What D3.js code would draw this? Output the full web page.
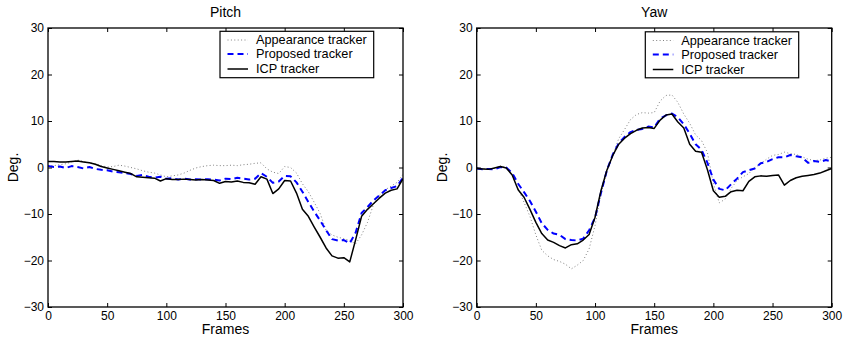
<!DOCTYPE html>
<html><head><meta charset="utf-8">
<script src="https://cdn.jsdelivr.net/npm/d3@7"></script>
<style>body{margin:0;background:#fff}svg{display:block}text{font-family:"Liberation Sans",Arial,Helvetica,sans-serif;fill:#000}</style>
</head><body><svg id="c" width="846" height="341"></svg>
<script>
const frames = d3.range(0, 301, 5);
const xTicks = [0, 50, 100, 150, 200, 250, 300];
const yTicks = [-30, -20, -10, 0, 10, 20, 30];
const seriesNames = ["Appearance tracker", "Proposed tracker", "ICP tracker"];
const panelTitles = ["Pitch", "Yaw"];

const pitchAppearance = [0.4,0.4,0.6,0.8,1.2,1.6,1.3,1.0,0.8,0.4,0.1,0.2,0.5,0.3,0.0,-0.3,-0.7,-1.0,-1.2,-1.6,-2.0,-1.8,-1.6,-1.2,-0.6,-0.1,0.2,0.4,0.5,0.4,0.4,0.5,0.4,0.6,0.7,0.9,1.0,-0.3,-1.0,-1.3,0.2,0.0,-1.2,-3.5,-5.2,-7.5,-9.9,-13.5,-14.5,-15.0,-15.3,-15.7,-16.4,-14.5,-11.8,-8.0,-6.0,-4.8,-4.0,-3.2,-1.5];
const pitchProposed = [0.3,0.1,0.2,-0.1,0.3,0.1,-0.2,0.1,-0.3,-0.5,-0.6,-0.9,-1.0,-1.2,-1.4,-1.8,-1.6,-2.0,-2.2,-2.0,-2.4,-2.3,-2.6,-2.4,-2.6,-2.5,-2.6,-2.5,-2.6,-2.8,-2.4,-2.5,-2.2,-2.4,-2.6,-2.4,-1.2,-2.0,-3.3,-3.0,-1.8,-1.9,-3.2,-5.2,-7.4,-9.5,-11.4,-13.5,-15.4,-15.7,-15.6,-16.3,-14.0,-9.8,-8.5,-7.1,-6.0,-4.9,-4.4,-4.0,-2.2];
const pitchICP = [1.3,1.3,1.2,1.2,1.3,1.4,1.2,1.0,0.7,0.2,-0.1,-0.4,-0.7,-1.0,-1.3,-2.0,-2.1,-2.2,-2.3,-2.9,-2.4,-2.6,-2.6,-2.5,-2.6,-2.7,-2.6,-2.7,-2.8,-3.4,-3.0,-3.1,-2.9,-3.2,-3.3,-3.6,-2.0,-2.5,-5.6,-4.6,-2.8,-2.9,-5.5,-9.0,-10.5,-12.8,-15.0,-17.3,-19.0,-19.5,-19.4,-20.3,-15.5,-10.5,-9.0,-7.8,-6.6,-5.5,-4.9,-4.6,-2.4];

const yawAppearance = [-0.1,-0.2,-0.3,-0.2,0.3,0.0,-1.8,-4.5,-7.5,-10.5,-14.5,-17.8,-19.0,-19.8,-20.2,-20.8,-21.8,-21.0,-20.0,-17.5,-12.5,-5.7,-1.0,2.6,6.2,8.2,10.3,11.4,11.8,11.7,11.8,14.3,15.5,15.6,14.0,11.5,9.5,7.0,5.8,3.2,-3.5,-7.6,-6.8,-4.5,-2.8,-2.0,-1.3,0.0,0.8,1.8,2.6,2.8,3.3,3.0,2.8,2.3,1.8,1.5,1.6,2.0,2.2];
const yawProposed = [-0.2,-0.4,-0.3,-0.4,0.1,0.0,-1.2,-3.5,-5.3,-7.2,-9.5,-12.0,-13.4,-14.2,-14.5,-15.4,-15.6,-15.7,-15.3,-13.5,-10.8,-5.5,-0.6,2.8,5.2,6.6,7.6,8.1,8.3,8.8,8.6,10.5,11.2,11.6,10.8,9.3,7.3,5.0,3.8,1.0,-2.6,-4.6,-4.9,-3.6,-2.4,-1.0,-0.6,-0.2,0.9,1.2,1.8,2.2,2.2,2.7,2.4,2.2,1.0,1.4,1.2,1.6,1.3];
const yawICP = [-0.2,-0.3,-0.4,-0.1,0.2,-0.1,-1.6,-4.8,-6.4,-9.0,-11.8,-14.2,-15.6,-16.1,-16.8,-17.3,-16.6,-16.4,-15.6,-14.4,-10.7,-5.0,-0.6,2.6,5.0,6.3,7.3,8.0,8.5,8.6,8.4,10.2,11.3,11.5,9.8,8.5,5.0,3.5,3.3,-0.5,-5.0,-6.4,-6.2,-5.2,-4.9,-5.0,-3.0,-2.0,-1.8,-1.9,-1.7,-1.6,-3.8,-2.8,-2.2,-1.9,-1.7,-1.5,-1.2,-0.7,-0.2];

const styles = [
  {stroke:"#808080", width:1, dash:"1,2.4"},
  {stroke:"#0000ff", width:2, dash:"6,4"},
  {stroke:"#000000", width:1.5, dash:null}
];

const panels = [
  {title: panelTitles[0], x0: 48, x1: 403, legend: {x: 220, y: 31.3, w: 153.7, h: 46.4}, data: [pitchAppearance, pitchProposed, pitchICP]},
  {title: panelTitles[1], x0: 476.7, x1: 831.7, legend: {x: 645.3, y: 31.8, w: 153.4, h: 46}, data: [yawAppearance, yawProposed, yawICP]}
];
const yTop = 28, yBot = 307;
const svg = d3.select("#c");
const fmt = v => v < 0 ? "\u2212" + Math.abs(v) : String(v);

panels.forEach((p, pi) => {
  const x = d3.scaleLinear().domain([0, 300]).range([p.x0, p.x1]);
  const y = d3.scaleLinear().domain([-30, 30]).range([yBot, yTop]);
  const g = svg.append("g");
  const cid = "clip" + pi;
  svg.append("clipPath").attr("id", cid).append("rect")
    .attr("x", p.x0).attr("y", yTop).attr("width", p.x1 - p.x0).attr("height", yBot - yTop);

  const line = d3.line().x((d, i) => x(frames[i])).y(d => y(d));
  const lg = g.append("g").attr("clip-path", `url(#${cid})`);
  p.data.forEach((vals, si) => {
    const s = styles[si];
    lg.append("path").attr("d", line(vals)).attr("fill", "none")
      .attr("stroke", s.stroke).attr("stroke-width", s.width)
      .attr("stroke-dasharray", s.dash).attr("stroke-linejoin", "round");
  });

  // axes with inward ticks on all sides
  const tl = 4;
  const axB = d3.axisBottom(x).tickValues(xTicks).tickSize(-tl).tickPadding(6).tickFormat(d3.format("d"));
  const axT = d3.axisTop(x).tickValues(xTicks).tickSize(-tl).tickFormat("");
  const axL = d3.axisLeft(y).tickValues(yTicks).tickSize(-tl).tickPadding(6).tickFormat(fmt);
  const axR = d3.axisRight(y).tickValues(yTicks).tickSize(-tl).tickFormat("");
  const gb = g.append("g").attr("transform", `translate(0,${yBot})`).call(axB);
  const gt = g.append("g").attr("transform", `translate(0,${yTop})`).call(axT);
  const gl = g.append("g").attr("transform", `translate(${p.x0},0)`).call(axL);
  const gr = g.append("g").attr("transform", `translate(${p.x1},0)`).call(axR);
  [gb, gt, gl, gr].forEach(a => {
    a.select(".domain").remove();
    a.selectAll("line").attr("stroke", "#000").attr("stroke-width", 1);
    a.selectAll("text").style("font-size", "12px").attr("fill", "#000")
      .style("font-family", '"Liberation Sans",Arial,sans-serif');
  });
  gb.selectAll("text").attr("dy", "0.71em").attr("y", 4);
  gl.selectAll("text").attr("x", -4);
  g.append("rect").attr("x", p.x0).attr("y", yTop).attr("width", p.x1 - p.x0).attr("height", yBot - yTop)
    .attr("fill", "none").attr("stroke", "#000").attr("stroke-width", 1.3);

  const cx = (p.x0 + p.x1) / 2;
  g.append("text").attr("x", cx).attr("y", 17).attr("text-anchor", "middle").style("font-size", "14px").text(p.title);
  g.append("text").attr("x", cx).attr("y", 334).attr("text-anchor", "middle").style("font-size", "14px").text("Frames");
  g.append("text").attr("transform", `translate(${p.x0 - 30},${(yTop + yBot) / 2}) rotate(-90)`)
    .attr("text-anchor", "middle").style("font-size", "14px").text("Deg.");

  // legend
  const L = p.legend;
  const leg = g.append("g");
  leg.append("rect").attr("x", L.x).attr("y", L.y).attr("width", L.w).attr("height", L.h)
    .attr("fill", "#fff").attr("stroke", "#000").attr("stroke-width", 1.2);
  const rows = [L.y + 8.7, L.y + 22.7, L.y + 37.7];
  seriesNames.forEach((name, si) => {
    const s = styles[si];
    leg.append("line").attr("x1", L.x + 7.5).attr("x2", L.x + 28).attr("y1", rows[si]).attr("y2", rows[si])
      .attr("stroke", s.stroke).attr("stroke-width", s.width).attr("stroke-dasharray", s.dash);
    leg.append("text").attr("x", L.x + 36).attr("y", rows[si]).attr("dy", "0.35em")
      .style("font-size", "12.7px").text(name);
  });
});
</script></body></html>
